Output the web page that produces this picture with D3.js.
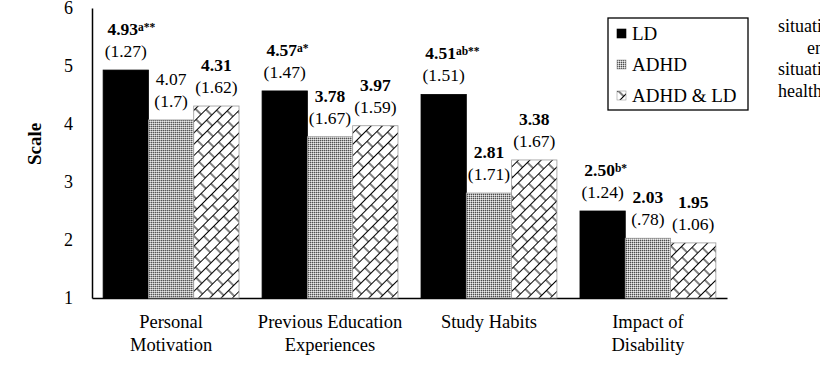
<!DOCTYPE html>
<html>
<head>
<meta charset="utf-8">
<script src="https://cdn.jsdelivr.net/npm/d3@7"></script>
<style>
  body { margin: 0; background: #fff; }
  svg { display: block; font-family: "Liberation Serif", "Times New Roman", serif; }
</style>
</head>
<body>
<div id="chart-area"></div>
<script>
// Data
var categories = [["Personal", "Motivation"], ["Previous Education", "Experiences"], ["Study Habits"], ["Impact of", "Disability"]];
var seriesNames = ["LD", "ADHD", "ADHD & LD"];
var ldMeans = [4.93, 4.57, 4.51, 2.50];
var ldSD = ["(1.27)", "(1.47)", "(1.51)", "(1.24)"];
var ldSup = ["a**", "a*", "ab**", "b*"];
var adhdMeans = [4.07, 3.78, 2.81, 2.03];
var adhdSD = ["(1.7)", "(1.67)", "(1.71)", "(.78)"];
var bothMeans = [4.31, 3.97, 3.38, 1.95];
var bothSD = ["(1.62)", "(1.59)", "(1.67)", "(1.06)"];
var yTicks = [1, 2, 3, 4, 5, 6];
var sideText = ["situations", "environment", "situations", "health"];

var totalWidth = 820, totalHeight = 372;
var margin = {top: 8, right: 93, bottom: 74, left: 92},
    width = totalWidth - margin.left - margin.right,
    height = totalHeight - margin.top - margin.bottom;

var svg = d3.select("#chart-area").append("svg")
    .attr("width", totalWidth)
    .attr("height", totalHeight);

// Fill patterns
var defs = svg.append("defs");
var dots = defs.append("pattern")
    .attr("id", "pat-adhd")
    .attr("patternUnits", "userSpaceOnUse")
    .attr("width", 2).attr("height", 2);
dots.append("rect").attr("width", 2).attr("height", 2).attr("fill", "#b4b4b4");
dots.append("rect").attr("width", 1).attr("height", 1).attr("fill", "#4a4a4a");
dots.append("rect").attr("x", 1).attr("y", 1).attr("width", 1).attr("height", 1).attr("fill", "#eee");

var brick = defs.append("pattern")
    .attr("id", "pat-both")
    .attr("patternUnits", "userSpaceOnUse")
    .attr("width", 14).attr("height", 16)
    .attr("patternTransform", "rotate(-45)");
brick.append("rect").attr("width", 14).attr("height", 16).attr("fill", "#fff");
brick.append("path")
    .attr("d", "M0,0.5H14M0,8.5H14M1,0.5V8.5M8,8.5V16.5")
    .attr("stroke", "#000").attr("stroke-width", 1).attr("fill", "none");

var fills = ["#000", "url(#pat-adhd)", "url(#pat-both)"];
var strokes = ["#000", "#999", "#999"];

var g = svg.append("g")
    .attr("transform", "translate(" + margin.left + "," + margin.top + ")");

// Scales
var x0 = d3.scaleBand()
    .domain(d3.range(categories.length))
    .range([0, width])
    .paddingInner(0.145)
    .paddingOuter(0.07);
var x1 = d3.scaleBand()
    .domain(d3.range(seriesNames.length))
    .range([0, x0.bandwidth()]);
var y = d3.scaleLinear().domain([1, 6]).range([height, 0]);

// Y axis
var yAxis = g.append("g")
    .call(d3.axisLeft(y).tickValues(yTicks).tickSize(0).tickPadding(19).tickFormat(d3.format("d")));
yAxis.select(".domain").attr("stroke", "#000").attr("stroke-width", 1.5);
yAxis.selectAll("text")
    .attr("font-family", "Liberation Serif, serif")
    .attr("font-size", 18).attr("fill", "#000");

// X axis line
var xAxis = g.append("g")
    .attr("transform", "translate(0," + height + ")")
    .call(d3.axisBottom(x0).tickSize(0).tickFormat(""));
xAxis.select(".domain").attr("stroke", "#000").attr("stroke-width", 1.5);

// Bars
var rows = categories.map(function(c, i) {
    return [
        {s: 0, v: ldMeans[i], sd: ldSD[i], sup: ldSup[i], bold: true},
        {s: 1, v: adhdMeans[i], sd: adhdSD[i], sup: "", bold: i !== 0},
        {s: 2, v: bothMeans[i], sd: bothSD[i], sup: "", bold: true}
    ];
});

var groups = g.selectAll(".grp")
    .data(rows)
    .enter().append("g")
    .attr("class", "grp")
    .attr("transform", function(d, i) { return "translate(" + x0(i) + ",0)"; });

groups.selectAll("rect")
    .data(function(d) { return d; })
    .enter().append("rect")
    .attr("x", function(d) { return x1(d.s); })
    .attr("y", function(d) { return y(d.v); })
    .attr("width", x1.bandwidth())
    .attr("height", function(d) { return height - y(d.v); })
    .attr("fill", function(d) { return fills[d.s]; })
    .attr("stroke", function(d) { return strokes[d.s]; })
    .attr("stroke-width", 0.8);

// Value labels
groups.each(function(d) {
    var grp = d3.select(this);
    d.forEach(function(b) {
        var cx = x1(b.s) + x1.bandwidth() / 2;
        var top = y(b.v);
        var shift = b.sup ? -3 : 0;
        var t = grp.append("text")
            .attr("x", cx + shift)
            .attr("y", top - 35)
            .attr("text-anchor", "middle")
            .attr("font-size", 17.5)
            .attr("font-weight", b.bold ? "bold" : "normal")
            .text(b.v.toFixed(2));
        if (b.sup) {
            var w = t.node().getComputedTextLength();
            grp.append("text")
                .attr("x", cx + shift + w / 2)
                .attr("y", top - 39)
                .attr("font-size", 11.5)
                .attr("font-weight", "bold")
                .text(b.sup);
        }
        grp.append("text")
            .attr("x", cx)
            .attr("y", top - 13)
            .attr("text-anchor", "middle")
            .attr("font-size", 17.5)
            .text(b.sd);
    });
});

// Category labels
groups.append("text")
    .attr("x", x0.bandwidth() / 2)
    .attr("y", height + 30)
    .attr("text-anchor", "middle")
    .attr("font-size", 18.5)
    .selectAll("tspan")
    .data(function(d, i) { return categories[i]; })
    .enter().append("tspan")
    .attr("x", x0.bandwidth() / 2)
    .attr("dy", function(d, i) { return i === 0 ? 0 : 23; })
    .text(function(d) { return d; });

// Y axis label
g.append("text")
    .attr("transform", "rotate(-90)")
    .attr("x", -136)
    .attr("y", -51)
    .attr("text-anchor", "middle")
    .attr("font-size", 19)
    .attr("font-weight", "bold")
    .text("Scale");

// Legend
var legend = svg.append("g").attr("transform", "translate(608,18)");
legend.append("rect")
    .attr("width", 140).attr("height", 92)
    .attr("fill", "#fff").attr("stroke", "#000").attr("stroke-width", 1.3);
var li = legend.selectAll(".li")
    .data(seriesNames)
    .enter().append("g")
    .attr("transform", function(d, i) { return "translate(9," + (11 + i * 31) + ")"; });
li.append("rect")
    .attr("width", 9).attr("height", 9)
    .attr("fill", function(d, i) { return fills[i]; })
    .attr("stroke", function(d, i) { return strokes[i]; })
    .attr("stroke-width", 0.6);
li.append("text")
    .attr("x", 15).attr("y", 11)
    .attr("font-size", 19)
    .text(function(d) { return d; });

// Clipped text at the right edge
svg.selectAll(".side")
    .data(sideText)
    .enter().append("text")
    .attr("x", function(d, i) { return i === 1 ? 807 : 778; })
    .attr("y", function(d, i) { return 32 + i * 21.7; })
    .attr("font-size", 18)
    .text(function(d) { return d; });
</script>
</body>
</html>
